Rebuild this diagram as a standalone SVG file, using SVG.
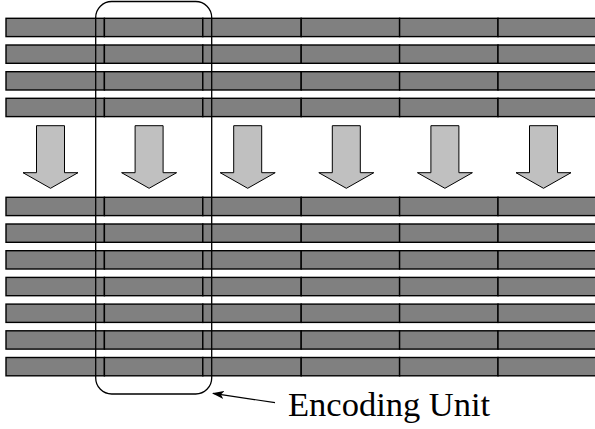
<svg xmlns="http://www.w3.org/2000/svg" width="595" height="429" viewBox="0 0 595 429">
<defs>
<style>
.cell{fill:#808080;stroke:#000;stroke-width:1.4}
.bigarrow{fill:#c0c0c0;stroke:#000;stroke-width:1}
.unit{fill:none;stroke:#000;stroke-width:1.3}
.lbl{font-family:"Liberation Serif","Times New Roman",serif;font-size:34.5px;fill:#000}
</style>
<g id="rowcells">
<rect class="cell" x="6" y="0" width="98.4" height="18.3"/>
<rect class="cell" x="104.4" y="0" width="98.4" height="18.3"/>
<rect class="cell" x="202.8" y="0" width="98.4" height="18.3"/>
<rect class="cell" x="301.2" y="0" width="98.4" height="18.3"/>
<rect class="cell" x="399.6" y="0" width="98.4" height="18.3"/>
<rect class="cell" x="498" y="0" width="98.4" height="18.3"/>
</g>
<polygon id="barrow" class="bigarrow" points="-14,0 14,0 14,47 27.5,47 0,62.6 -27.5,47 -14,47 -14,0"/>
<marker id="ah" markerWidth="12" markerHeight="8" refX="11" refY="4" orient="auto" markerUnits="userSpaceOnUse">
<path d="M0,0 L12,4 L0,8 L3,4 Z" fill="#000"/>
</marker>
</defs>
<rect width="595" height="429" fill="#fff"/>
<g id="input-rows">
<use href="#rowcells" y="18.3"/>
<use href="#rowcells" y="45"/>
<use href="#rowcells" y="71.7"/>
<use href="#rowcells" y="98.3"/>
</g>
<g id="arrows">
<use href="#barrow" x="50.5" y="125.7"/>
<use href="#barrow" x="149.1" y="125.7"/>
<use href="#barrow" x="247.7" y="125.7"/>
<use href="#barrow" x="346.3" y="125.7"/>
<use href="#barrow" x="444.9" y="125.7"/>
<use href="#barrow" x="543.5" y="125.7"/>
</g>
<g id="output-rows">
<use href="#rowcells" y="197.3"/>
<use href="#rowcells" y="224"/>
<use href="#rowcells" y="250.7"/>
<use href="#rowcells" y="277.4"/>
<use href="#rowcells" y="304.1"/>
<use href="#rowcells" y="330.8"/>
<use href="#rowcells" y="357.5"/>
</g>
<g id="encoding-unit">
<rect class="unit" x="95.7" y="1.5" width="116" height="392.5" rx="16" ry="16"/>
</g>
<g id="connectors">
<line x1="275" y1="402.7" x2="213" y2="393.3" stroke="#000" stroke-width="1.2" marker-end="url(#ah)"/>
</g>
<g id="label">
<text class="lbl" x="288" y="416">Encoding Unit</text>
</g>
</svg>
